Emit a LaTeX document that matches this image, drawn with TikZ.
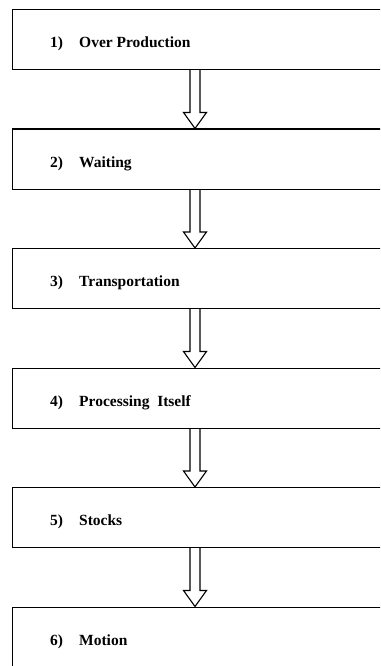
\documentclass[tikz,border=0pt]{standalone}
\usepackage{fontspec}
\setmainfont{Liberation Serif}
\usepackage{tikz}
\usetikzlibrary{calc}

% hollow block arrow pointing down, from #1 to #2
\newcommand{\hollowdown}[2]{%
  \draw[blockarrow] let \p1=(#1), \p2=(#2) in
    (\x1-5pt,\y1) -- (\x1-5pt,\y2+16pt) -- (\x1-11.5pt,\y2+16pt) -- (\x1,\y2)
    -- (\x1+11.5pt,\y2+16pt) -- (\x1+5pt,\y2+16pt) -- (\x1+5pt,\y1);
}

\begin{document}
\begin{tikzpicture}[x=1pt,y=1pt,
    stagebox/.style={rectangle,draw,line width=1.2pt,minimum width=420pt,
      minimum height=60pt,inner sep=0pt,anchor=north west},
    stagetext/.style={anchor=base west,font=\bfseries\fontsize{15.5}{18}\selectfont,inner sep=0pt},
    blockarrow/.style={line width=1.1pt,line join=miter}]
    \useasboundingbox (0,0) rectangle (380,-666);
    \clip (0,0) rectangle (380,-666);
    \foreach \i/\txt in {1/Over Production,2/Waiting,3/Transportation,
        4/Processing\ \ Itself,5/Stocks,6/Motion} {
      \node[stagebox] (s\i) at (12,{-9-119.5*(\i-1)}) {};
      \node[stagetext] (n\i) at ([xshift=38pt,yshift=-8pt]s\i.west) {\i)};
      \node[stagetext] (t\i) at ([xshift=67pt,yshift=-8pt]s\i.west) {\txt};
    }
    \foreach \a/\b in {1/2,2/3,3/4,4/5,5/6} {
      \hollowdown{[xshift=183pt]s\a.south west}{[xshift=183pt]s\b.north west}
    }
\end{tikzpicture}
\end{document}
